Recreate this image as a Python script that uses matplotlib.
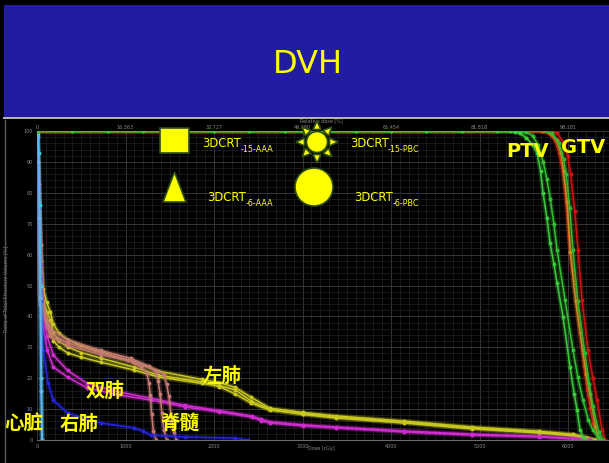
import matplotlib.pyplot as plt
from matplotlib.patches import Rectangle, Polygon, Circle
from matplotlib.ticker import MultipleLocator
import numpy as np

W, H = 609, 463

# --- DVH data: dose in cGy, volume in % ---
heart_dose_a = [0, 10, 20, 30, 40, 50, 60]
heart_vol_a = [100, 99, 93, 76, 50, 20, 0]
heart_dose_b = [0, 8, 16, 26, 36, 46, 56]
heart_vol_b = [100, 98, 90, 72, 46, 16, 0]

lung_dose = [0, 20, 45, 70, 110, 150, 185, 250, 345, 500, 720, 1100, 1370, 1860,
             2060, 2240, 2420, 2630, 3000, 3380, 4150, 4910, 5670, 6060, 6210, 6300]
left_lung_a = [100, 80, 58, 45, 41.5, 38.8, 34.6, 32.0, 30.1, 28.3, 26.5, 23.6, 21.0,
               18.8, 17.3, 14.9, 11.9, 9.7, 8.5, 7.4, 5.8, 3.9, 2.6, 1.6, 0.6, 0]
left_lung_b = [100, 83, 63, 49, 44.5, 41.5, 37.5, 34.5, 32.5, 30.4, 28.5, 25.2, 22.3,
               19.6, 18.6, 17.0, 13.8, 10.3, 8.9, 7.8, 6.1, 4.2, 2.8, 1.8, 0.8, 0]
left_lung_c = [100, 77, 54, 42, 38.5, 35.8, 32.2, 30.0, 28.2, 26.8, 25.2, 22.6, 20.4,
               18.3, 17.6, 16.2, 12.6, 9.9, 8.3, 7.1, 5.5, 3.6, 2.3, 1.3, 0.4, 0]

both_lung_dose = [0, 20, 45, 70, 115, 185, 345, 570, 915, 1290, 1670, 2060, 2430,
                  2530, 2630, 3000, 3380, 4150, 4910, 5670, 6060, 6250]
both_lung_a = [100, 80, 52, 36.6, 29.1, 23.6, 20.4, 16.8, 14.6, 12.9, 10.7, 9.1,
               7.4, 6.3, 5.5, 4.6, 3.9, 2.6, 1.6, 1.0, 0.3, 0]
both_lung_b = [100, 83, 57, 41, 33.5, 27.5, 22.5, 18.2, 15.6, 13.5, 11.2, 9.5,
               7.7, 6.7, 5.9, 4.9, 4.2, 2.9, 1.9, 1.2, 0.5, 0]

right_lung_dose = [0, 20, 45, 70, 125, 185, 345, 720, 1100, 1200, 1290, 1670, 2240, 2380]
right_lung_vol = [100, 75, 45, 29, 18.4, 12.9, 8.7, 5.5, 3.9, 2.8, 1.6, 1.0, 0.6, 0]

cord_dose_a = [0, 20, 35, 150, 345, 720, 1030, 1180, 1240, 1265, 1280, 1295, 1315, 1345]
cord_vol_a = [100, 75, 45.3, 34.6, 31.4, 28.2, 25.9, 23.5, 21.8, 18.5, 14.6, 8.5, 3.0, 0]
cord_dose_b = [0, 20, 35, 150, 345, 720, 1060, 1270, 1340, 1370, 1390, 1410, 1435, 1465]
cord_vol_b = [100, 77, 47, 36, 32.4, 29, 26.4, 23.8, 22.2, 19.0, 15, 8.8, 3.2, 0]
cord_dose_c = [0, 20, 35, 150, 345, 720, 1090, 1330, 1430, 1465, 1490, 1515, 1545, 1575]
cord_vol_c = [100, 73, 44, 33.5, 30.6, 27.6, 25.3, 22.8, 21.3, 18.0, 14.2, 7.8, 2.6, 0]

ptv_dose_a = [0, 400, 800, 1200, 1600, 2000, 2400, 2800, 3200, 3600, 4000, 4400,
              4800, 5200, 5345, 5400, 5460, 5530, 5600, 5650, 5690, 5718, 5760,
              5797, 5840, 5876, 5944, 6023, 6070, 6102, 6136, 6169, 6190]
ptv_vol_a = [100, 100, 100, 100, 100, 100, 100, 100, 100, 100, 100, 100,
             100, 100, 100, 99.8, 99.2, 97.8, 95.5, 92.9, 87, 80, 72,
             63.8, 57, 50.8, 39.8, 23.6, 15, 9.7, 3.2, 1, 0]
ptv_dose_b = [0, 5450, 5530, 5600, 5660, 5720, 5760, 5800, 5840, 5876, 5966, 6056,
              6110, 6169, 6230, 6282, 6339, 6360]
ptv_vol_b = [100, 100, 99.6, 98.5, 95.5, 90, 84.5, 78, 70, 61.5, 45.3, 29.1,
             20.5, 12.9, 6.5, 3.2, 1, 0]
ptv_dose_c = [0, 5750, 5820, 5900, 5950, 5980, 6020, 6056, 6110, 6190, 6240, 6280,
              6350, 6395]
ptv_vol_c = [100, 100, 99.2, 96, 91, 86, 75, 61.5, 45, 28, 18, 11, 2.5, 0]

gtv_dose_a = [0, 5700, 5780, 5850, 5900, 5940, 5975, 6010, 6056, 6100, 6136, 6180,
              6215, 6250, 6282, 6339, 6370]
gtv_vol_a = [100, 100, 99.4, 97, 93, 87, 78, 66, 55, 44, 35, 24,
             16.2, 10.5, 5.5, 1, 0]
gtv_dose_b = [0, 5800, 5880, 5950, 5995, 6030, 6075, 6113, 6158, 6226, 6280, 6328,
              6384, 6420]
gtv_vol_b = [100, 100, 99.2, 96, 92, 86, 74, 61.5, 45.3, 29.1, 20, 12.9, 3.2, 0]
gtv_dose_c = [0, 5720, 5800, 5870, 5920, 5950, 5990, 6025, 6085, 6165, 6205, 6245,
              6310, 6355]
gtv_vol_c = [100, 100, 99.3, 97, 93, 87, 77, 61, 45, 29, 21.5, 15, 4.5, 0]

dose_ticks = [0, 1000, 2000, 3000, 4000, 5000, 6000]
vol_ticks = [0, 10, 20, 30, 40, 50, 60, 70, 80, 90, 100]
rel_dose_labels = ['0', '16.363', '32.727', '49.090', '65.454', '81.818', '98.181']

YELLOW = '#ffff00'
TICK_GRAY = '#8a8a8a'
NARROW = ['Liberation Sans Narrow', 'DejaVu Sans']
CJK = ['Noto Sans CJK SC', 'DejaVu Sans']

fig = plt.figure(figsize=(W / 100, H / 100), dpi=100, facecolor='black')

# --- DVH panel ---
ax = fig.add_axes([37 / W, 23 / H, 572 / W, 309 / H])
ax.set_facecolor('black')
ax.set_xlim(0, 6463)
ax.set_ylim(0, 100)
ax.set_xticks(dose_ticks)
ax.set_yticks(vol_ticks)
ax.xaxis.set_minor_locator(MultipleLocator(100))
ax.yaxis.set_minor_locator(MultipleLocator(2))
ax.grid(which='major', color='#3e3e3e', lw=0.6)
ax.grid(which='minor', color='#222222', lw=0.5)
ax.set_axisbelow(True)
ax.tick_params(which='both', length=0, labelsize=3.5, colors=TICK_GRAY, pad=3)
for side in ['top', 'right', 'left']:
    ax.spines[side].set_visible(False)
ax.spines['bottom'].set_color('#6a6a6a')
ax.spines['bottom'].set_linewidth(0.8)

sec = ax.secondary_xaxis('top')
sec.set_xticks(dose_ticks, labels=rel_dose_labels)
sec.tick_params(length=0, labelsize=3.5, colors=TICK_GRAY, pad=1)
sec.spines['top'].set_visible(False)

ax.set_ylabel('Ratio of Total Structure Volume [%]', fontsize=3.5, color=TICK_GRAY)
ax.yaxis.set_label_coords(-0.05, 0.49)
ax.set_xlabel('Dose [cGy]', fontsize=3.5, color=TICK_GRAY)
ax.xaxis.set_label_coords(0.497, -0.02)
ax.text(0.497, 1.032, 'Relative dose [%]', transform=ax.transAxes,
        fontsize=3.5, color=TICK_GRAY, ha='center', va='center')


def dvh(dose, vol, color):
    ax.plot(dose, vol, color=color, lw=3.4, alpha=0.28, solid_capstyle='round',
            solid_joinstyle='round')
    ax.plot(dose, vol, color=color, lw=1.1, marker='o', ms=1.8,
            solid_joinstyle='round')


for v in [left_lung_a, left_lung_b, left_lung_c]:
    dvh(lung_dose, v, '#c8c81e')
for v in [both_lung_a, both_lung_b]:
    dvh(both_lung_dose, v, '#d02cd0')
for d, v in [(cord_dose_a, cord_vol_a), (cord_dose_b, cord_vol_b), (cord_dose_c, cord_vol_c)]:
    dvh(d, v, '#c47a72')
dvh(right_lung_dose, right_lung_vol, '#2424e0')
dvh(heart_dose_a, heart_vol_a, '#30d8d8')
dvh(heart_dose_b, heart_vol_b, '#6ab0f0')
dvh(gtv_dose_a, gtv_vol_a, '#d41010')
dvh(gtv_dose_c, gtv_vol_c, '#d88a20')
dvh(gtv_dose_b, gtv_vol_b, '#d41010')
dvh(ptv_dose_c, ptv_vol_c, '#30b830')
dvh(ptv_dose_b, ptv_vol_b, '#30c030')
dvh(ptv_dose_a, ptv_vol_a, '#3ccc3c')

# --- slide overlay in pixel coordinates ---
ov = fig.add_axes([0, 0, 1, 1])
ov.set_xlim(0, W)
ov.set_ylim(H, 0)
ov.axis('off')
ov.patch.set_alpha(0)

ov.add_patch(Rectangle((3.5, 4.5), W - 3.5, 113, color='#211ca0', lw=0))
ov.plot([3.5, W], [118.3, 118.3], color='#b8b8b8', lw=1.4)
ov.plot([4.5, 4.5], [119.5, H], color='#5a5a5a', lw=1)
ov.text(308, 73, 'DVH', ha='center', va='baseline', fontsize=23,
        color=YELLOW, family=NARROW)

# plan legend symbols
edge = dict(fc=YELLOW, ec='#2f4f12', lw=1.2)
ov.add_patch(Rectangle((160, 128), 29, 25, **edge))
ov.add_patch(Polygon([(174.5, 172), (163, 202), (186, 202)], closed=True, **edge))
ov.add_patch(Circle((314, 187), 19, **edge))
sun_c = np.array([317, 142])
for ang in np.deg2rad(np.arange(0, 360, 45)):
    u = np.array([np.cos(ang), np.sin(ang)])
    n = np.array([-u[1], u[0]])
    ray = [sun_c + 12.5 * u + 4 * n, sun_c + 21 * u, sun_c + 12.5 * u - 4 * n]
    ov.add_patch(Polygon(ray, closed=True, **edge))
ov.add_patch(Circle(tuple(sun_c), 10.5, **edge))

plans = [(202, 147, 241, '-15-AAA'), (350, 147, 388, '-15-PBC'),
         (207, 201, 246, '-6-AAA'), (354, 201, 393, '-6-PBC')]
for x0, y0, xs, sub in plans:
    ov.text(x0, y0, '3DCRT', fontsize=8.4, color=YELLOW, va='baseline')
    ov.text(xs, y0 + 5, sub, fontsize=5.8, color=YELLOW, va='baseline')

ov.text(528, 157, 'PTV', ha='center', va='baseline', fontsize=14,
        weight='bold', color=YELLOW, family=NARROW)
ov.text(583, 153, 'GTV', ha='center', va='baseline', fontsize=14,
        weight='bold', color=YELLOW, family=NARROW)

organs = [('心脏', 24, 424), ('右肺', 79, 424), ('双肺', 105, 391),
          ('脊髓', 180, 423), ('左肺', 222, 376)]
for name, x, y in organs:
    ov.text(x, y, name, ha='center', va='center', fontsize=14, weight='bold',
            color=YELLOW, family=CJK)

fig.savefig('out.png', dpi=100, facecolor='black')
